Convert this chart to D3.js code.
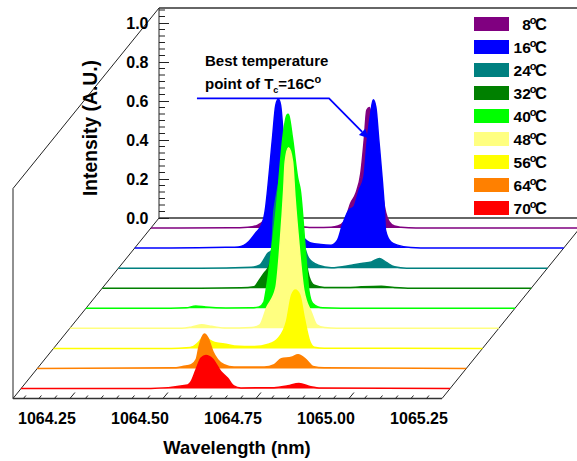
<!DOCTYPE html>
<html><head><meta charset="utf-8">
<script src="https://cdn.jsdelivr.net/npm/d3@7"></script>
<style>html,body{margin:0;padding:0;background:#fff}svg{display:block}text{font-family:"Liberation Sans",Arial,sans-serif;font-weight:bold;fill:#000}</style>
</head><body><div id="c"></div>
<script>
// back-to-front: 8C ... 70C
const temps = ["8","16","24","32","40","48","56","64","70"];
const colors = ["#800080","#0000ff","#008080","#008000","#00ff00","#ffff80","#ffff00","#ff8000","#ff0000"];
const xTicks = [1064.25,1064.5,1064.75,1065,1065.25];
const yTicks = [0,0.2,0.4,0.6,0.8,1.0];

const w8  = [1064.097,1064.177,1064.312,1064.357,1064.384,1064.397,1064.414,1064.433,1064.452,1064.478,1064.505,1064.540,1064.581,1064.599,1064.616,1064.634,1064.648,1064.661,1064.670,1064.677,1064.684,1064.688,1064.702,1064.720,1064.728,1064.737,1064.751,1064.769,1064.809,1065.25];
const v8  = [0,0,.001,.004,.015,.032,.15,.5,.2,.03,.007,.002,.004,.01,.032,.128,.179,.282,.451,.605,.618,.59,.45,.16,.077,.032,.01,.004,0,0];
const w16 = [1064.097,1064.194,1064.342,1064.375,1064.390,1064.403,1064.422,1064.440,1064.449,1064.453,1064.467,1064.476,1064.483,1064.489,1064.497,1064.511,1064.532,1064.548,1064.570,1064.597,1064.624,1064.642,1064.655,1064.673,1064.686,1064.700,1064.713,1064.722,1064.731,1064.738,1064.745,1064.753,1064.763,1064.767,1064.771,1064.785,1064.803,1064.839,1064.892,1065.25];
const v16 = [0,0,.004,.006,.014,.032,.077,.128,.212,.28,.56,.733,.764,.733,.56,.3,.1,.058,.026,.018,.015,.041,.118,.195,.212,.297,.365,.554,.69,.76,.723,.554,.333,.231,.092,.032,.015,.003,0,0];
const w24 = [1064.097,1064.320,1064.454,1064.476,1064.499,1064.508,1064.515,1064.554,1064.594,1064.608,1064.634,1064.669,1064.723,1064.750,1064.777,1064.799,1064.817,1064.839,1064.871,1065.25];
const v24 = [0,0,.005,.015,.077,.09,.3,.55,.13,.051,.015,.002,.015,.024,.032,.05,.029,.007,0,0];
const w32 = [1064.097,1064.363,1064.470,1064.505,1064.519,1064.532,1064.546,1064.560,1064.597,1064.640,1064.653,1064.667,1064.694,1064.753,1064.793,1064.847,1064.882,1064.927,1065.25];
const v32 = [0,0,.002,.007,.041,.077,.118,.25,.4,.18,.058,.015,.004,.003,.007,.01,.004,0,0];
const w40 = [1064.097,1064.325,1064.366,1064.392,1064.419,1064.473,1064.540,1064.562,1064.575,1064.581,1064.599,1064.613,1064.616,1064.626,1064.637,1064.640,1064.642,1064.652,1064.666,1064.673,1064.688,1064.696,1064.706,1064.733,1064.782,1065.25];
const v40 = [0,0,.002,.012,.006,.001,.002,.007,.032,.092,.349,.6,.667,.872,.99,.995,.99,.872,.667,.605,.262,.09,.026,.002,0,0];
const w48 = [1064.097,1064.358,1064.398,1064.425,1064.452,1064.478,1064.519,1064.586,1064.608,1064.626,1064.651,1064.663,1064.672,1064.676,1064.685,1064.696,1064.702,1064.712,1064.726,1064.747,1064.761,1064.782,1064.814,1065.25];
const v48 = [0,0,0,.007,.018,.01,.001,.004,.018,.105,.208,.45,.71,.854,.926,.854,.684,.454,.197,.079,.018,.004,0,0];
const w56 = [1064.097,1064.414,1064.454,1064.472,1064.486,1064.503,1064.516,1064.530,1064.556,1064.583,1064.637,1064.674,1064.701,1064.723,1064.737,1064.747,1064.759,1064.771,1064.786,1064.798,1064.825,1065.25];
const v56 = [0,0,.003,.009,.03,.062,.044,.03,.023,.012,.009,.021,.052,.137,.274,.3,.274,.157,.035,.006,.001,0];
const w64 = [1064.097,1064.470,1064.488,1064.511,1064.524,1064.532,1064.546,1064.556,1064.569,1064.582,1064.599,1064.626,1064.707,1064.734,1064.753,1064.780,1064.798,1064.820,1064.838,1064.868,1065.25];
const v64 = [0,.003,.01,.019,.045,.113,.177,.156,.087,.045,.019,.007,.007,.019,.05,.057,.07,.044,.01,.003,0];
const w70 = [1064.097,1064.446,1064.545,1064.554,1064.567,1064.581,1064.594,1064.612,1064.634,1064.652,1064.669,1064.688,1064.777,1064.814,1064.844,1064.876,1064.903,1065.25];
const v70 = [0,0,.018,.035,.095,.156,.169,.151,.087,.054,.013,.003,.004,.014,.026,.009,.002,0];

const wavelengths = [w8,w16,w24,w32,w40,w48,w56,w64,w70];
const intensities = [v8,v16,v24,v32,v40,v48,v56,v64,v70];

// annotation anchored on the back plane, in data units
const noteW = [1064.199,1064.554,1064.660];
const noteV = [0.613,0.613,0.409];

const W=577,H=461;
const svg=d3.select("#c").append("svg").attr("width",W).attr("height",H);
const x=d3.scaleLinear().domain([1064.097,1065.25]).range([13,442]);
const y=d3.scaleLinear().domain([0,1]).range([0,-195]);
const floorY=398.5, backDX=146, backDY=-180.5, topY=8;
const depthX=d3.scalePoint().domain(temps).range([138,8]);
const depthY=d3.scalePoint().domain(temps).range([-170.5,-10]);
const ink="#222";

// frame
const line=(pts,sw,c)=>svg.append("path").attr("d",d3.line()(pts)).attr("fill","none").attr("stroke",c||ink).attr("stroke-width",sw);
const x0=x.range()[0],x1=x.range()[1];
line([[x0,floorY],[x0,topY-backDY],[x0+backDX,topY],[x0+backDX,floorY+backDY]],1);
line([[x0+backDX,topY],[x1+backDX,topY]],1.5,"#333");
line([[x0+backDX,floorY+backDY],[x1+backDX,floorY+backDY]],1.5,"#333");
line([[x0,floorY],[x0+backDX,floorY+backDY]],1);
line([[x1,floorY],[x1+backDX,floorY+backDY]],1);

// y axis on the back plane
const yBack=d3.scaleLinear().domain([0,1]).range([floorY+backDY,floorY+backDY-195]);
const yAxisG=svg.append("g").attr("transform",`translate(${x0+backDX},0)`);
yAxisG.call(d3.axisRight(yBack).tickValues(yTicks).tickSize(10).tickFormat(d3.format(".1f")))
  .call(g=>g.select(".domain").remove());
yAxisG.selectAll("line").attr("stroke",ink).attr("stroke-width",1);
yAxisG.selectAll("text").attr("x",-10.5).attr("text-anchor","end").attr("dy","0.36em").style("font-size","16px").style("font-family",'"Liberation Sans"').style("font-weight","bold");
d3.range(0,36).map(i=>i/30).filter(v=>v<=1.075 && Math.round(v*30)%6!==0).forEach(v=>{
  yAxisG.append("line").attr("x1",0).attr("x2",6).attr("y1",yBack(v)).attr("y2",yBack(v)).attr("stroke",ink).attr("stroke-width",1);
});

// series, back to front
temps.forEach((t,i)=>{
  const pts=wavelengths[i].map((w,j)=>[w,intensities[i][j]]);
  const g=svg.append("g").attr("transform",`translate(${depthX(t)},${floorY+depthY(t)})`);
  const area=d3.area().x(d=>x(d[0])).y0(0).y1(d=>y(d[1])).curve(d3.curveMonotoneX);
  g.append("path").attr("d",area(pts)).attr("fill",colors[i]);
  g.append("path").attr("d",d3.line().x(d=>x(d[0])).y(d=>y(d[1])).curve(d3.curveMonotoneX)(pts))
    .attr("fill","none").attr("stroke",colors[i]).attr("stroke-width",1.5);
});

// floor axis
line([[x0,floorY],[x1,floorY]],1.6,"#333");
const step=0.25/6;
d3.range(-3,24).map(i=>1064.25+i*step).filter(w=>w>=1064.1&&w<=1065.251).forEach(w=>{
  const major=xTicks.some(m=>Math.abs(m-w)<1e-6);
  svg.append("line").attr("x1",x(w)).attr("x2",x(w)+(major?5:2.5)).attr("y1",floorY).attr("y2",floorY-(major?6:3)).attr("stroke",ink).attr("stroke-width",1);
});
const xAxisG=svg.append("g").attr("transform",`translate(0,${floorY})`);
xAxisG.call(d3.axisBottom(x).tickValues(xTicks).tickSize(0).tickFormat(d3.format(".2f")))
  .call(g=>g.select(".domain").remove());
xAxisG.selectAll("text").attr("x",-23.5).attr("y",25).attr("dy",0).style("font-size","16px").style("font-family",'"Liberation Sans"').style("font-weight","bold");

// axis titles
svg.append("text").attr("transform","translate(97,128) rotate(-90)").attr("text-anchor","middle").style("font-size","19.3px").text("Intensity (A.U.)");
svg.append("text").attr("x",237).attr("y",454).attr("text-anchor","middle").style("font-size","18.4px").text("Wavelength (nm)");

// annotation
const note=noteW.map((w,i)=>[x(w)+backDX,yBack(noteV[i])]);
const a=note[1],b=note[2],L=Math.hypot(b[0]-a[0],b[1]-a[1]),ux=(b[0]-a[0])/L,uy=(b[1]-a[1])/L;
const bx=b[0]-ux*9,by=b[1]-uy*9;
line([note[0],a,[bx,by]],1.8,"#0000ff");
svg.append("path").attr("d",d3.line()([b,[bx-uy*4.5,by+ux*4.5],[bx+uy*4.5,by-ux*4.5]])+"Z").attr("fill","#0000ff");
svg.append("text").attr("x",205).attr("y",66).style("font-size","15px").text("Best temperature");
const n2=svg.append("text").attr("x",205).attr("y",89).style("font-size","15px");
n2.append("tspan").text("point of T");
n2.append("tspan").attr("dy",4).style("font-size","9px").text("c");
n2.append("tspan").attr("dy",-4).text("=16C");
n2.append("tspan").attr("dy",-6).style("font-size","11px").text("o");

// legend
temps.forEach((t,i)=>{
  const cy=24+23*i;
  svg.append("rect").attr("x",474).attr("y",cy-7).attr("width",35).attr("height",14).attr("fill",colors[i]);
  const tx=svg.append("text").attr("x",547).attr("y",cy+6).attr("text-anchor","end").style("font-size","15.5px");
  tx.append("tspan").text(t);
  tx.append("tspan").attr("dy",-6).attr("dx",-1).style("font-size","11px").text("o");
  tx.append("tspan").attr("dy",6).attr("dx",-1.5).style("font-size","16.5px").text("C");
});
</script></body></html>
